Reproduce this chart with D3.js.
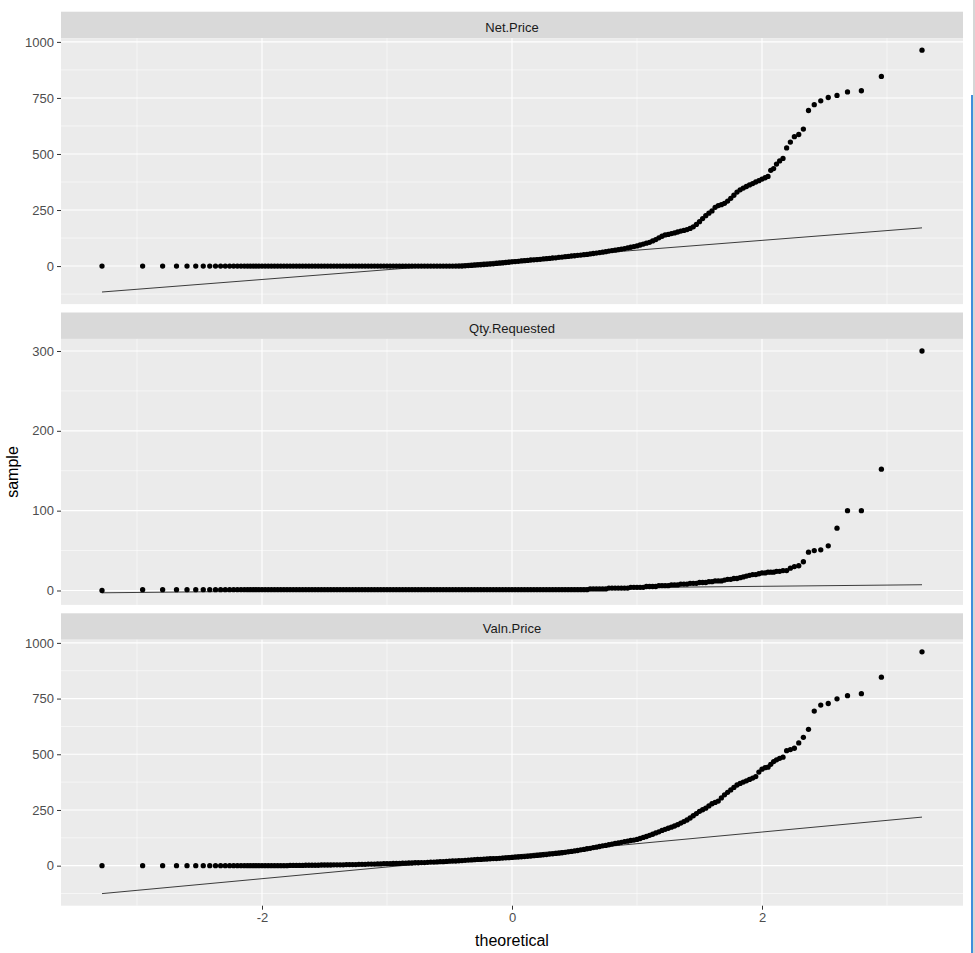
<!DOCTYPE html>
<html><head><meta charset="utf-8">
<script src="https://cdn.jsdelivr.net/npm/d3@7"></script>
<style>
body{margin:0;background:#fff;}
svg{display:block;}
text{font-family:"Liberation Sans",Arial,Helvetica,sans-serif;}
</style>
</head><body>
<svg id="chart" width="975" height="953"></svg>
<script>
// ---------------- DATA ----------------
const facets = ["Net.Price", "Qty.Requested", "Valn.Price"];

// theoretical normal quantiles of the plotted points
const theoretical = [
  -3.28,-2.955,-2.795,-2.684,-2.6,-2.53,-2.47,-2.418,-2.372,-2.331,-2.294,-2.259,-2.227,-2.197,-2.168,-2.141,-2.116,-2.093,-2.07,-2.048,
  -2.025,-2,-1.975,-1.95,-1.925,-1.9,-1.875,-1.85,
  -1.825,-1.8,-1.775,-1.75,-1.725,-1.7,-1.675,-1.65,
  -1.625,-1.6,-1.575,-1.55,-1.525,-1.5,-1.475,-1.45,
  -1.425,-1.4,-1.375,-1.35,-1.325,-1.3,-1.275,-1.25,
  -1.225,-1.2,-1.175,-1.15,-1.125,-1.1,-1.075,-1.05,
  -1.025,-1,-0.975,-0.95,-0.925,-0.9,-0.875,-0.85,
  -0.825,-0.8,-0.775,-0.75,-0.725,-0.7,-0.675,-0.65,
  -0.625,-0.6,-0.575,-0.55,-0.525,-0.5,-0.475,-0.45,
  -0.425,-0.4,-0.375,-0.35,-0.325,-0.3,-0.275,-0.25,
  -0.225,-0.2,-0.175,-0.15,-0.125,-0.1,-0.075,-0.05,
  -0.025,0,0.025,0.05,0.075,0.1,0.125,0.15,
  0.175,0.2,0.225,0.25,0.275,0.3,0.325,0.35,
  0.375,0.4,0.425,0.45,0.475,0.5,0.525,0.55,
  0.575,0.6,0.625,0.65,0.675,0.7,0.725,0.75,
  0.775,0.8,0.825,0.85,0.875,0.9,0.925,0.95,
  0.975,1,1.025,1.05,1.075,1.1,1.125,1.15,
  1.175,1.2,1.225,1.25,1.275,1.3,1.325,1.35,
  1.375,1.4,1.425,1.45,1.475,1.5,1.525,1.55,
  1.575,1.6,1.625,1.65,1.675,1.7,1.725,1.75,
  1.775,1.8,1.825,1.85,1.875,1.9,1.925,1.95,
  1.975,2,2.025,
  2.048,2.07,2.093,2.116,2.141,2.168,2.197,2.227,2.259,2.294,2.331,2.372,2.418,2.47,2.53,2.6,2.684,2.795,2.955,3.28
];

const netPrice = [
  0,0,0,0,0,0,0,0,0,0,0,0,0,0,0,0,0,0,0,0,
  0,0,0,0,0,0,0,0,
  0,0,0,0,0,0,0,0,
  0,0,0,0,0,0,0,0,
  0,0,0,0,0,0,0,0,
  0,0,0,0,0,0,0,0,
  0,0,0,0,0,0,0,0,
  0,0,0,0,0,0,0,0,
  0,0,0,0,0,0,0,0,
  0,0,1,2,3,4,5,6,
  7,8,9,10,12,13,14,16,
  17,19,20,21,23,24,25,27,
  28,29,30,32,33,34,36,37,
  39,40,42,43,45,46,48,49,
  51,52,54,56,58,60,62,64,
  67,69,71,73,76,78,81,84,
  87,90,94,98,102,106,112,118,
  126,133,139,141,145,148,152,156,
  159,163,168,175,186,198,212,225,
  236,246,262,270,274,280,290,302,
  316,330,340,348,355,362,368,375,
  381,388,394,
  400,427,435,455,469,480,527,553,577,587,611,694,720,737,752,761,777,782,846,963
];

const qtyRequested = [
  0,1,1,1,1,1,1,1,1,1,1,1,1,1,1,1,1,1,1,1,
  1,1,1,1,1,1,1,1,
  1,1,1,1,1,1,1,1,
  1,1,1,1,1,1,1,1,
  1,1,1,1,1,1,1,1,
  1,1,1,1,1,1,1,1,
  1,1,1,1,1,1,1,1,
  1,1,1,1,1,1,1,1,
  1,1,1,1,1,1,1,1,
  1,1,1,1,1,1,1,1,
  1,1,1,1,1,1,1,1,
  1,1,1,1,1,1,1,1,
  1,1,1,1,1,1,1,1,
  1,1,1,1,1,1,1,1,
  1,1,2,2,2,2,2,2,
  3,3,3,3,3,3,3,4,
  4,4,4,4,5,5,5,5,
  6,6,6,6,7,7,7,8,
  8,8,9,9,9,10,10,10,
  11,11,12,12,12,13,14,14,
  15,15,16,17,18,19,20,20,
  21,22,22,
  23,23,23,24,24,25,25,28,30,31,36,48,50,51,56,78,100,100,152,300
];

const valnPrice = [
  0,0,0,0,0,0,0,0,0,0,0,0,0,0,0,0,0,0,0,0,
  0,0,0,0,0,0,0,0,
  0,0,1,1,1,1,1,2,
  2,2,2,2,3,3,3,3,
  4,4,4,4,5,5,5,5,
  6,6,6,7,7,7,8,8,
  9,9,9,10,10,10,11,11,
  12,12,13,13,14,14,15,16,
  16,17,18,18,19,20,21,21,
  22,23,24,25,26,27,28,28,
  29,30,31,32,32,33,34,35,
  36,37,38,39,40,41,42,43,
  45,46,47,49,50,52,53,55,
  56,58,60,62,64,66,68,71,
  73,76,78,81,83,86,89,91,
  94,97,100,102,105,108,110,113,
  115,118,122,127,131,136,141,147,
  152,158,163,168,173,178,184,191,
  198,205,214,224,234,244,251,258,
  268,278,284,290,304,318,329,340,
  351,362,369,375,381,387,393,400,
  420,433,440,
  442,455,467,475,482,487,516,521,527,551,576,612,694,721,728,749,763,772,846,960
];

// reference (qq) line end points
const lineTheoretical = [-3.28, 3.28];
const netPriceLine = [-115.7, 170.5];
const qtyRequestedLine = [-2.9, 7.2];
const valnPriceLine = [-125.4, 218];

// tick labels
const xTicks = [-2, 0, 2];
const xMinorTicks = [-3, -1, 1, 3];
const netPriceTicks = [0, 250, 500, 750, 1000];
const qtyRequestedTicks = [0, 100, 200, 300];
const valnPriceTicks = [0, 250, 500, 750, 1000];

const samples = [netPrice, qtyRequested, valnPrice];
const lines = [netPriceLine, qtyRequestedLine, valnPriceLine];
const yTickSets = [netPriceTicks, qtyRequestedTicks, valnPriceTicks];

// ---------------- LAYOUT ----------------
const svg = d3.select("#chart");
const panelLeft = 61, panelRight = 963;
const firstStripTop = 11.7, facetStep = 300.8, stripH = 26.4, panelH = 266;
const FONT = '"Liberation Sans",Arial,sans-serif';

const C = {
  strip: "#D9D9D9", panel: "#EBEBEB", grid: "#FFFFFF",
  stripText: "#1A1A1A", tickText: "#4D4D4D", tick: "#333333"
};

const allT = theoretical.concat(lineTheoretical);
const tExt = d3.extent(allT);
const tPad = (tExt[1] - tExt[0]) * 0.05;
const x = d3.scaleLinear().domain([tExt[0] - tPad, tExt[1] + tPad]).range([panelLeft, panelRight]);
const fmt = d => String(d);   // plain hyphen-minus like R

svg.append("rect").attr("width", 975).attr("height", 953).attr("fill", "#fff");

facets.forEach((name, i) => {
  const stripTop = firstStripTop + facetStep * i;
  const pTop = stripTop + stripH;
  const pBot = pTop + panelH;
  const vals = samples[i];
  const n = Math.min(vals.length, theoretical.length);
  const pts = d3.range(n).map(k => ({t: theoretical[k], v: vals[k]}));
  const ext = d3.extent(vals.slice(0, n).concat(lines[i]));
  const pad = (ext[1] - ext[0]) * 0.05;
  const y = d3.scaleLinear().domain([ext[0] - pad, ext[1] + pad]).range([pBot, pTop]);

  const g = svg.append("g");
  // strip
  g.append("rect").attr("x", panelLeft).attr("y", stripTop).attr("width", panelRight - panelLeft)
    .attr("height", stripH).attr("fill", C.strip);
  g.append("text").attr("x", (panelLeft + panelRight) / 2).attr("y", stripTop + 20)
    .attr("text-anchor", "middle").attr("font-size", 13).attr("fill", C.stripText).text(name);
  // panel
  g.append("rect").attr("x", panelLeft).attr("y", pTop).attr("width", panelRight - panelLeft)
    .attr("height", panelH).attr("fill", C.panel);

  // minor grid y: midpoints between major ticks (inside range)
  const yt = yTickSets[i];
  const step = yt[1] - yt[0];
  const yMinor = [];
  for (let k = -1; k < yt.length; k++) {
    const m = yt[0] + step * (k + 0.5);
    const [d0, d1] = y.domain();
    if (m > d0 && m < d1) yMinor.push(m);
  }
  g.selectAll(".ymin").data(yMinor).join("line")
    .attr("x1", panelLeft).attr("x2", panelRight)
    .attr("y1", d => y(d)).attr("y2", d => y(d))
    .attr("stroke", C.grid).attr("stroke-width", 0.55);
  g.selectAll(".xmin").data(xMinorTicks).join("line")
    .attr("x1", d => x(d)).attr("x2", d => x(d))
    .attr("y1", pTop).attr("y2", pBot)
    .attr("stroke", C.grid).attr("stroke-width", 0.55);
  // major grid
  g.selectAll(".ymaj").data(yt).join("line")
    .attr("x1", panelLeft).attr("x2", panelRight)
    .attr("y1", d => y(d)).attr("y2", d => y(d))
    .attr("stroke", C.grid).attr("stroke-width", 1.1);
  g.selectAll(".xmaj").data(xTicks).join("line")
    .attr("x1", d => x(d)).attr("x2", d => x(d))
    .attr("y1", pTop).attr("y2", pBot)
    .attr("stroke", C.grid).attr("stroke-width", 1.1);

  // y axis
  const yAxis = d3.axisLeft(y).tickValues(yt).tickSize(4).tickPadding(3).tickFormat(fmt);
  const ya = g.append("g").attr("transform", `translate(${panelLeft},0)`).call(yAxis);
  ya.select(".domain").remove();
  ya.selectAll(".tick line").attr("stroke", C.tick).attr("stroke-width", 1);
  ya.selectAll(".tick text").attr("fill", C.tickText).attr("font-size", 13).attr("font-family", FONT);

  // points
  g.selectAll(".pt").data(pts).join("circle")
    .attr("cx", d => x(d.t)).attr("cy", d => y(d.v)).attr("r", 2.65).attr("fill", "#000");

  // qq line
  const lineData = lineTheoretical.map((t, k) => ({t, v: lines[i][k]}));
  g.append("path").datum(lineData)
    .attr("d", d3.line().x(d => x(d.t)).y(d => y(d.v)))
    .attr("fill", "none").attr("stroke", "#000").attr("stroke-width", 0.75);

  // x axis on bottom panel only
  if (i === facets.length - 1) {
    const xAxis = d3.axisBottom(x).tickValues(xTicks).tickSize(4).tickPadding(3).tickFormat(fmt);
    const xa = g.append("g").attr("transform", `translate(0,${pBot})`).call(xAxis);
    xa.select(".domain").remove();
    xa.selectAll(".tick line").attr("stroke", C.tick).attr("stroke-width", 1);
    xa.selectAll(".tick text").attr("fill", C.tickText).attr("font-size", 13).attr("font-family", FONT);
    g.append("text").attr("x", (panelLeft + panelRight) / 2).attr("y", 946)
      .attr("text-anchor", "middle").attr("font-size", 16).attr("fill", "#000").text("theoretical");
  }
});

// y axis title
svg.append("text").attr("transform", "translate(18,472) rotate(-90)")
  .attr("text-anchor", "middle").attr("font-size", 16).attr("fill", "#000").text("sample");

// window edge seen at the right of the screenshot
svg.append("rect").attr("x", 971).attr("y", 95).attr("width", 2).attr("height", 858).attr("fill", "#3F8FDC");
svg.append("rect").attr("x", 973).attr("y", 0).attr("width", 2).attr("height", 953).attr("fill", "#D6D6D6");
</script>
</body></html>
